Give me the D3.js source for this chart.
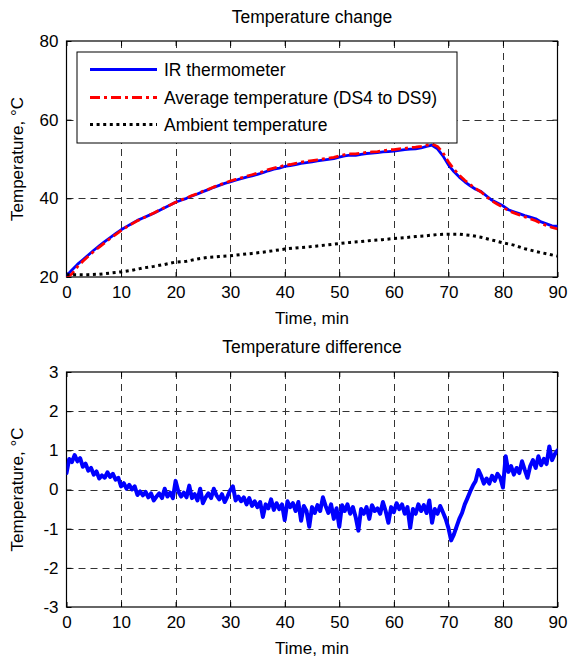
<!DOCTYPE html>
<html>
<head>
<meta charset="utf-8">
<script src="https://cdn.jsdelivr.net/npm/d3@7"></script>
<style>
  html, body { margin: 0; padding: 0; background: #fff; }
  svg { display: block; font-family: "Liberation Sans", Arial, Helvetica, sans-serif; }
</style>
</head>
<body>
<svg id="chart" width="568" height="660"></svg>
<script>
// ---------------- DATA ----------------
const xTicks = [0, 10, 20, 30, 40, 50, 60, 70, 80, 90];
const topYTicks = [20, 40, 60, 80];
const botYTicks = [-3, -2, -1, 0, 1, 2, 3];

const topTitle = "Temperature change";
const botTitle = "Temperature difference";
const xLabel = "Time, min";
const yLabel = "Temperature, \u00B0C";
const seriesNames = ["IR thermometer", "Average temperature (DS4 to DS9)", "Ambient temperature"];

// time in minutes, 1-min step (0..90)
const timeMin = d3.range(0, 91, 1);
const irThermometer = [
  20.3, 21.8, 23.2, 24.4, 25.6, 26.8, 27.9, 29.0, 30.0, 31.0,
  32.0, 32.8, 33.6, 34.4, 35.0, 35.6, 36.2, 36.9, 37.6, 38.3,
  39.0, 39.5, 40.0, 40.6, 41.1, 41.7, 42.2, 42.8, 43.3, 43.8,
  44.2, 44.6, 45.0, 45.4, 45.7, 46.1, 46.5, 47.0, 47.4, 47.7,
  48.1, 48.3, 48.6, 48.9, 49.1, 49.3, 49.5, 49.7, 49.9, 50.1,
  50.5, 50.8, 51.0, 50.9, 51.2, 51.4, 51.5, 51.6, 51.8, 51.9,
  52.0, 52.2, 52.4, 52.5, 52.6, 52.8, 53.2, 53.5, 52.6, 50.8,
  48.5, 46.8, 45.4, 44.2, 43.2, 42.3, 41.7, 40.6, 39.5, 38.8,
  38.1, 37.1, 36.6, 36.1, 35.6, 35.2, 34.8, 34.0, 33.5, 33.0,
  32.9
];
const avgTemperature = [
  19.8, 20.8, 22.6, 24.0, 25.3, 26.5, 27.6, 28.7, 29.8, 30.8,
  31.8, 32.7, 33.5, 34.3, 35.0, 35.6, 36.3, 37.0, 37.7, 38.3,
  39.0, 39.6, 40.1, 40.7, 41.2, 41.8, 42.3, 42.9, 43.4, 43.9,
  44.4, 44.8, 45.2, 45.6, 46.0, 46.4, 46.8, 47.3, 47.7, 48.0,
  48.4, 48.6, 48.9, 49.2, 49.4, 49.6, 49.8, 50.0, 50.2, 50.4,
  50.8, 51.1, 51.3, 51.3, 51.5, 51.7, 51.8, 51.9, 52.1, 52.3,
  52.4, 52.6, 52.7, 52.9, 53.0, 53.2, 53.5, 53.8, 53.2, 51.6,
  49.3, 47.4, 45.9, 44.6, 43.5, 42.5, 41.6, 40.4, 39.3, 38.5,
  37.7, 36.9, 36.3, 35.8, 35.3, 34.8, 34.3, 33.6, 33.1, 32.6,
  32.2
];
// ambient, 2-min step (0..90)
const ambientTime = d3.range(0, 91, 2);
const ambientTemperature = [
  20.6, 20.6, 20.6, 20.7, 21.0, 21.3, 21.7, 22.3, 22.7, 23.2,
  23.8, 24.0, 24.6, 25.0, 25.2, 25.4, 25.7, 26.0, 26.3, 26.7,
  27.1, 27.4, 27.6, 27.9, 28.2, 28.5, 28.8, 29.0, 29.3, 29.5,
  29.8, 30.0, 30.3, 30.5, 30.8, 30.9, 30.9, 30.6, 30.1, 29.4,
  28.7, 28.1, 27.2, 26.5, 25.9, 25.3
];

// difference, 0.5-min step (0..90)
const diffTime = d3.range(0, 90.01, 0.5);
const tempDifference = [
  0.42, 0.78, 0.70, 0.88, 0.72, 0.80, 0.58, 0.66, 0.48, 0.55,
  0.38, 0.46, 0.28, 0.36, 0.30, 0.44, 0.32, 0.40, 0.25, 0.30,
  0.08, 0.16, 0.02, 0.12, 0.00, 0.08, -0.14, -0.05, -0.15, -0.06,
  -0.20, -0.10, -0.28, -0.18, -0.10, -0.22, 0.02, -0.18, -0.08, -0.22,
  0.22, -0.05, -0.18, -0.08, -0.20, 0.10, -0.22, -0.12, -0.28, 0.02,
  -0.35, -0.20, -0.10, -0.22, 0.02, -0.15, -0.25, -0.12, -0.32, -0.18,
  -0.02, 0.08, -0.28, -0.18, -0.30, -0.20, -0.38, -0.22, -0.42, -0.30,
  -0.45, -0.32, -0.70, -0.38, -0.48, -0.25, -0.52, -0.35, -0.50, -0.38,
  -0.78, -0.30, -0.45, -0.35, -0.55, -0.32, -0.80, -0.42, -0.55, -0.95,
  -0.45, -0.60, -0.40, -0.55, -0.20, -0.42, -0.60, -0.38, -0.75, -0.48,
  -0.95, -0.40, -0.55, -0.38, -0.62, -0.45, -0.70, -1.05, -0.50, -0.62,
  -0.45, -0.75, -0.40, -0.55, -0.48, -0.62, -0.32, -0.55, -0.85, -0.45,
  -0.58, -0.35, -0.50, -0.38, -0.62, -0.45, -0.98, -0.50, -0.62, -0.38,
  -0.55, -0.40, -0.60, -0.28, -0.85, -0.50, -0.62, -0.42, -0.58, -0.75,
  -0.98, -1.30, -1.15, -0.95, -0.75, -0.60, -0.38, -0.22, -0.05, 0.10,
  0.22, 0.50, 0.35, 0.15, 0.28, 0.15, 0.35, 0.22, 0.40, 0.30,
  0.05, 0.85, 0.45, 0.60, 0.38, 0.55, 0.42, 0.72, 0.50, 0.30,
  0.60, 0.75, 0.55, 0.85, 0.62, 0.78, 0.65, 1.10, 0.75, 0.90,
  1.00
];

// ---------------- LAYOUT ----------------
const svg = d3.select("#chart");
const L = 66.5, R = 557.5;
const panels = [
  { top: 41, bottom: 277, yDomain: [20, 80], yTicks: topYTicks, title: topTitle, titleY: 23 },
  { top: 372, bottom: 607, yDomain: [-3, 3], yTicks: botYTicks, title: botTitle, titleY: 353 }
];

const FONT_TICK = 17, FONT_LABEL = 17, FONT_TITLE = 17.5, FONT_LEG = 17.5;
const fmt = d => String(d);

function drawPanel(p, idx) {
  const x = d3.scaleLinear().domain([0, 90]).range([L, R]);
  const y = d3.scaleLinear().domain(p.yDomain).range([p.bottom, p.top]);
  const g = svg.append("g");

  // gridlines
  const grid = g.append("g").attr("stroke", "#333").attr("stroke-width", 1).attr("stroke-dasharray", "7,5");
  grid.selectAll("line.v").data(xTicks.filter(t => t > 0 && t < 90)).join("line")
    .attr("x1", d => Math.round(x(d)) + 0.5).attr("x2", d => Math.round(x(d)) + 0.5)
    .attr("y1", p.top).attr("y2", p.bottom);
  grid.selectAll("line.h").data(p.yTicks.filter(t => t > p.yDomain[0] && t < p.yDomain[1])).join("line")
    .attr("y1", d => Math.round(y(d)) + 0.5).attr("y2", d => Math.round(y(d)) + 0.5)
    .attr("x1", L).attr("x2", R);

  // clip
  const clipId = "clip" + idx;
  svg.append("clipPath").attr("id", clipId).append("rect")
    .attr("x", L).attr("y", p.top).attr("width", R - L).attr("height", p.bottom - p.top);

  // axes with inward ticks
  const axB = g.append("g").attr("transform", `translate(0,${p.bottom})`)
    .call(d3.axisBottom(x).tickValues(xTicks).tickFormat(fmt).tickSizeInner(-5).tickSizeOuter(0).tickPadding(9));
  const axT = g.append("g").attr("transform", `translate(0,${p.top})`)
    .call(d3.axisTop(x).tickValues(xTicks).tickSizeInner(-5).tickSizeOuter(0).tickFormat(""));
  const axL = g.append("g").attr("transform", `translate(${L},0)`)
    .call(d3.axisLeft(y).tickValues(p.yTicks).tickFormat(fmt).tickSizeInner(-5).tickSizeOuter(0).tickPadding(8));
  const axR = g.append("g").attr("transform", `translate(${R},0)`)
    .call(d3.axisRight(y).tickValues(p.yTicks).tickSizeInner(-5).tickSizeOuter(0).tickFormat(""));
  [axB, axT, axL, axR].forEach(a => {
    a.select(".domain").remove();
    a.selectAll("line").attr("stroke", "#000");
    a.selectAll("text").attr("font-size", FONT_TICK).attr("font-family", "Liberation Sans, Arial, sans-serif").attr("fill", "#000");
  });
  axB.selectAll("text").attr("dy", "0.71em");

  // frame
  g.append("rect").attr("x", L).attr("y", p.top).attr("width", R - L).attr("height", p.bottom - p.top)
    .attr("fill", "none").attr("stroke", "#000").attr("stroke-width", 1.2);

  // labels
  svg.append("text").attr("x", (L + R) / 2).attr("y", p.titleY).attr("text-anchor", "middle")
    .attr("font-size", FONT_TITLE).text(p.title);
  svg.append("text").attr("x", (L + R) / 2).attr("y", p.bottom + 47).attr("text-anchor", "middle")
    .attr("font-size", FONT_LABEL).text(xLabel);
  svg.append("text").attr("transform", `translate(23,${(p.top + p.bottom) / 2}) rotate(-90)`)
    .attr("text-anchor", "middle").attr("font-size", FONT_LABEL).text(yLabel);

  return { x, y, clipId };
}

// top panel
const tp = drawPanel(panels[0], 0);
const lineTop = (xs, ys) => d3.line().x((d, i) => tp.x(xs[i])).y(d => tp.y(d))(ys);
const styles = [
  { stroke: "#0000ff", width: 2.8, dash: null, cap: "round" },
  { stroke: "#ff0000", width: 2.8, dash: "10,4,3,4", cap: "butt" },
  { stroke: "#000000", width: 3, dash: "3,3.6", cap: "butt" }
];
const topSeries = [
  { xs: timeMin, ys: irThermometer },
  { xs: timeMin, ys: avgTemperature },
  { xs: ambientTime, ys: ambientTemperature }
];
const plotTop = svg.append("g").attr("clip-path", `url(#${tp.clipId})`);
topSeries.forEach((s, i) => {
  plotTop.append("path").attr("d", lineTop(s.xs, s.ys))
    .attr("fill", "none").attr("stroke", styles[i].stroke).attr("stroke-width", styles[i].width)
    .attr("stroke-dasharray", styles[i].dash).attr("stroke-linecap", styles[i].cap)
    .attr("stroke-linejoin", "round");
});

// legend
const leg = svg.append("g");
leg.append("rect").attr("x", 77).attr("y", 52).attr("width", 380).attr("height", 91)
  .attr("fill", "#fff").attr("stroke", "#000").attr("stroke-width", 1);
const legRows = [69.5, 97.5, 124.5];
seriesNames.forEach((name, i) => {
  leg.append("line").attr("x1", 90).attr("x2", 157).attr("y1", legRows[i]).attr("y2", legRows[i])
    .attr("stroke", styles[i].stroke).attr("stroke-width", styles[i].width)
    .attr("stroke-dasharray", styles[i].dash).attr("stroke-linecap", "butt");
  leg.append("text").attr("x", 164).attr("y", legRows[i] + 6.5).attr("font-size", FONT_LEG).text(name);
});

// bottom panel
const bp = drawPanel(panels[1], 1);
svg.append("g").attr("clip-path", `url(#${bp.clipId})`).append("path")
  .attr("d", d3.line().x((d, i) => bp.x(diffTime[i])).y(d => bp.y(d))(tempDifference))
  .attr("fill", "none").attr("stroke", "#0000ff").attr("stroke-width", 4)
  .attr("stroke-linejoin", "round").attr("stroke-linecap", "round");
</script>
</body>
</html>
